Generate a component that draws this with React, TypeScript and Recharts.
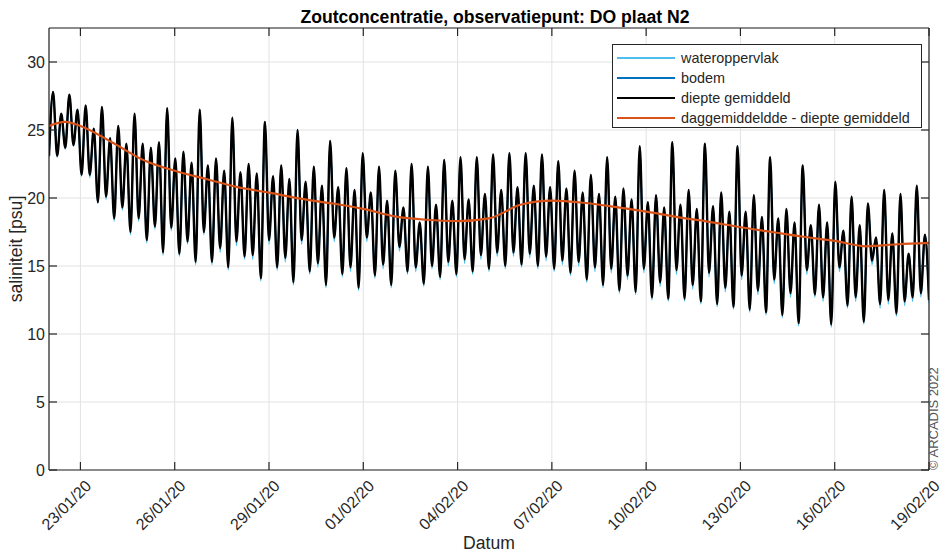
import React from 'react';
import { LineChart, Line, XAxis, YAxis, CartesianGrid } from 'recharts';

// x-as: dagen vanaf 22/01/20 00:00
const datumTicks = [1, 4, 7, 10, 13, 16, 19, 22, 25, 28];
const datumLabels = ['23/01/20', '26/01/20', '29/01/20', '01/02/20', '04/02/20', '07/02/20', '10/02/20', '13/02/20', '16/02/20', '19/02/20'];
const zoutTicks = [0, 5, 10, 15, 20, 25, 30];

// toppen (per getijslag) diepte gemiddeld
const diepteTop = [
  27.8, 26.2, 27.6, 26.5, 26.8, 25.1, 26.7, 24.4, 25.3, 24.0,
  26.2, 24.0, 23.7, 24.1, 26.6, 22.9, 23.4, 22.6, 26.5, 22.4,
  22.9, 22.0, 25.9, 21.9, 22.5, 21.8, 25.6, 21.6, 22.4, 21.4,
  25.0, 21.2, 22.3, 20.9, 24.2, 20.8, 22.2, 20.6, 23.3, 20.4,
  22.3, 19.8, 22.0, 19.3, 22.5, 18.2, 22.3, 19.5, 22.8, 19.8,
  23.0, 19.9, 23.0, 20.3, 23.2, 20.6, 23.3, 20.8, 23.3, 20.9,
  23.2, 20.8, 22.7, 20.7, 22.0, 20.4, 21.7, 20.3, 23.0, 20.1,
  20.7, 19.9, 23.8, 19.7, 20.2, 19.3, 24.1, 19.5, 20.6, 19.2,
  24.0, 19.4, 20.4, 19.0, 23.8, 19.0, 20.2, 18.6, 23.0, 18.5,
  19.2, 18.2, 22.4, 18.0, 19.5, 18.2, 21.2, 17.6, 20.1, 18.0,
  19.6, 17.1, 20.6, 17.4, 20.3, 15.9, 20.9, 17.3,
];

// dalen diepte gemiddeld
const diepteDal = [
  23.1, 23.1, 23.7, 23.9, 21.7, 21.7, 19.7, 20.1, 18.5, 19.3,
  17.5, 18.5, 16.9, 17.9, 16.0, 17.8, 15.9, 16.8, 15.3, 17.5,
  15.3, 16.3, 14.9, 16.8, 15.7, 15.8, 14.1, 16.9, 14.9, 15.6,
  13.8, 16.9, 14.6, 15.2, 13.6, 17.1, 14.4, 14.9, 13.4, 17.1,
  14.3, 15.1, 13.6, 16.4, 14.6, 14.9, 13.7, 15.0, 14.2, 15.3,
  14.4, 15.5, 14.6, 15.8, 14.8, 16.0, 15.0, 16.0, 15.1, 15.9,
  15.0, 15.7, 14.8, 15.4, 14.5, 15.3, 14.0, 14.9, 13.6, 14.8,
  13.2, 14.3, 13.1, 14.8, 12.7, 13.8, 12.6, 14.7, 12.6, 13.6,
  12.4, 14.5, 12.2, 13.4, 12.0, 14.3, 11.8, 13.2, 11.6, 14.0,
  11.4, 13.0, 10.8, 14.7, 12.9, 12.7, 10.7, 14.9, 12.1, 12.7,
  10.9, 15.4, 12.2, 12.5, 11.5, 12.4, 12.7, 13.0, 12.5,
];

// dalen wateroppervlak
const oppervlakDal = [
  23.0, 23.0, 23.6, 23.8, 21.6, 21.5, 19.6, 19.9, 18.3, 19.1,
  17.3, 18.3, 16.7, 17.7, 15.8, 17.6, 15.7, 16.6, 15.1, 17.3,
  15.1, 16.0, 14.7, 16.5, 15.5, 15.5, 13.9, 16.6, 14.7, 15.3,
  13.6, 16.6, 14.4, 14.9, 13.4, 16.8, 14.2, 14.6, 13.2, 16.8,
  14.1, 14.8, 13.4, 16.1, 14.4, 14.6, 13.5, 14.8, 14.0, 15.0,
  14.2, 15.2, 14.4, 15.5, 14.6, 15.7, 14.8, 15.7, 14.9, 15.6,
  14.8, 15.4, 14.6, 15.1, 14.3, 15.0, 13.8, 14.6, 13.4, 14.5,
  13.0, 14.0, 12.9, 14.5, 12.5, 13.5, 12.4, 14.4, 12.4, 13.3,
  12.2, 14.2, 12.0, 13.1, 11.8, 14.0, 11.6, 12.9, 11.4, 13.7,
  11.2, 12.7, 10.6, 14.4, 12.7, 12.4, 10.5, 14.6, 11.9, 12.4,
  10.7, 15.1, 11.9, 12.2, 11.3, 12.1, 12.4, 12.7, 12.3,
];

// dalen bodem
const bodemDal = [
  23.2, 23.2, 23.8, 24.0, 21.9, 21.9, 19.9, 20.3, 18.7, 19.5,
  17.7, 18.7, 17.1, 18.1, 16.2, 18.0, 16.1, 17.0, 15.5, 17.7,
  15.5, 16.5, 15.1, 17.0, 15.9, 16.0, 14.3, 17.1, 15.1, 15.8,
  14.0, 17.1, 14.8, 15.4, 13.8, 17.3, 14.6, 15.1, 13.6, 17.3,
  14.5, 15.3, 13.8, 16.6, 14.8, 15.1, 13.9, 15.2, 14.4, 15.5,
  14.6, 15.7, 14.8, 16.0, 15.0, 16.2, 15.2, 16.2, 15.3, 16.1,
  15.2, 15.9, 15.0, 15.6, 14.7, 15.5, 14.2, 15.1, 13.8, 15.0,
  13.4, 14.5, 13.3, 15.0, 12.9, 14.0, 12.8, 14.9, 12.8, 13.8,
  12.6, 14.7, 12.4, 13.6, 12.2, 14.5, 12.0, 13.4, 11.8, 14.2,
  11.6, 13.2, 11.0, 14.9, 13.1, 12.9, 10.9, 15.1, 12.3, 12.9,
  11.1, 15.6, 12.4, 12.7, 11.7, 12.6, 12.9, 13.2, 12.7,
];

// daggemiddelde
const dagDagen = [0, 0.5, 1, 2, 3, 4, 5, 6, 7, 8, 9, 10, 11, 12, 13, 14, 15, 16, 17, 18, 19, 20, 21, 22, 23, 24, 25, 26, 27, 28];
const dagGemiddeld = [
  25.3, 25.6, 25.3, 24.1, 22.8, 22.0, 21.4, 20.8, 20.4, 19.95,
  19.6, 19.2, 18.65, 18.4, 18.3, 18.5, 19.5, 19.8, 19.65, 19.35,
  19.0, 18.6, 18.25, 17.85, 17.5, 17.15, 16.85, 16.45, 16.6, 16.7,
];

const HALVE_SLAGEN = 216;
const PERIODE = 28;

const getij = [];
for (let i = 0; i <= HALVE_SLAGEN; i++) {
  const j = i >> 1;
  const dal = i % 2 === 0;
  getij.push({
    t: (i * PERIODE) / HALVE_SLAGEN,
    oppervlak: dal ? oppervlakDal[j] : diepteTop[j],
    bodem: dal ? bodemDal[j] : diepteTop[j],
    diepte: dal ? diepteDal[j] : diepteTop[j],
  });
}
const dagData = dagDagen.map((t, i) => ({ t, gem: dagGemiddeld[i] }));

const AX = '#262626';
const FONT = '"Liberation Sans", Arial, Helvetica, sans-serif';
const TICK_LEN = 8;

const BottomTick = (props: any) => {
  const { x, y, payload } = props;
  const label = datumLabels[datumTicks.indexOf(payload.value)];
  const lx = x + 8;
  const ly = y + 13;
  return (
    <g>
      <line x1={x} y1={y} x2={x} y2={y - TICK_LEN} stroke={AX} strokeWidth={1.2} />
      <text x={lx} y={ly} transform={`rotate(-45 ${lx} ${ly})`} textAnchor="end" dominantBaseline="central" fontSize={16} fill={AX} fontFamily={FONT}>
        {label}
      </text>
    </g>
  );
};

const TopTick = (props: any) => {
  const { x, y } = props;
  return <line x1={x} y1={y} x2={x} y2={y + TICK_LEN} stroke={AX} strokeWidth={1.2} />;
};

const LeftTick = (props: any) => {
  const { x, y, payload } = props;
  return (
    <g>
      <line x1={x} y1={y} x2={x + TICK_LEN} y2={y} stroke={AX} strokeWidth={1.2} />
      <text x={x - 4} y={y} textAnchor="end" dominantBaseline="central" fontSize={16} fill={AX} fontFamily={FONT}>
        {payload.value}
      </text>
    </g>
  );
};

const RightTick = (props: any) => {
  const { x, y } = props;
  return <line x1={x} y1={y} x2={x - TICK_LEN} y2={y} stroke={AX} strokeWidth={1.2} />;
};

const legendItems = [
  { name: 'wateroppervlak', color: '#4DBEEE' },
  { name: 'bodem', color: '#0072BD' },
  { name: 'diepte gemiddeld', color: '#000000' },
  { name: 'daggemiddeldde - diepte gemiddeld', color: '#D95319' },
];

const App = () => {
  return (
    <div style={{ position: 'absolute', left: 0, top: 0, width: 942, height: 556, background: '#fff', fontFamily: FONT }}>
      <LineChart width={942} height={556} data={getij} margin={{ top: 0, right: 0, bottom: 0, left: 0 }}>
        <CartesianGrid xAxisId="b" yAxisId="l" stroke="#e2e2e2" />
        <XAxis xAxisId="b" type="number" dataKey="t" domain={[0, 28]} ticks={datumTicks} interval={0} orientation="bottom" height={86} tickSize={0} tickMargin={0} tickLine={false} tick={<BottomTick />} axisLine={{ stroke: AX, strokeWidth: 1.2 }} allowDataOverflow />
        <XAxis xAxisId="t" type="number" dataKey="t" domain={[0, 28]} ticks={datumTicks} interval={0} orientation="top" height={28} tickSize={0} tickMargin={0} tickLine={false} tick={<TopTick />} axisLine={{ stroke: AX, strokeWidth: 1.2 }} allowDataOverflow />
        <YAxis yAxisId="l" type="number" domain={[0, 32.5]} ticks={zoutTicks} interval={0} width={49} tickSize={0} tickMargin={0} tickLine={false} tick={<LeftTick />} axisLine={{ stroke: AX, strokeWidth: 1.2 }} allowDataOverflow />
        <YAxis yAxisId="r" orientation="right" type="number" domain={[0, 32.5]} ticks={zoutTicks} interval={0} width={13} tickSize={0} tickMargin={0} tickLine={false} tick={<RightTick />} axisLine={{ stroke: AX, strokeWidth: 1.2 }} allowDataOverflow />
        <Line xAxisId="b" yAxisId="l" type="monotone" dataKey="oppervlak" stroke="#4DBEEE" strokeWidth={1.6} dot={false} isAnimationActive={false} />
        <Line xAxisId="b" yAxisId="l" type="monotone" dataKey="bodem" stroke="#0072BD" strokeWidth={1.6} dot={false} isAnimationActive={false} />
        <Line xAxisId="b" yAxisId="l" type="monotone" dataKey="diepte" stroke="#000000" strokeWidth={2.4} dot={false} isAnimationActive={false} />
        <Line xAxisId="b" yAxisId="l" data={dagData} type="monotone" dataKey="gem" stroke="#D95319" strokeWidth={2.2} dot={false} isAnimationActive={false} />
      </LineChart>

      <svg width={942} height={556} style={{ position: 'absolute', left: 0, top: 0, pointerEvents: 'none' }}>
        <text x={495} y={23} textAnchor="middle" fontSize={17.6} fontWeight="bold" fill="#000" fontFamily={FONT}>
          Zoutconcentratie, observatiepunt: DO plaat N2
        </text>
        <text x={16} y={249} transform="rotate(-90 16 249)" textAnchor="middle" dominantBaseline="central" fontSize={17.6} fill={AX} fontFamily={FONT}>
          saliniteit [psu]
        </text>
        <text x={489} y={549} textAnchor="middle" fontSize={17.6} fill={AX} fontFamily={FONT}>
          Datum
        </text>
        <text x={942} y={470} transform="rotate(-90 942 470)" textAnchor="start" fontSize={13} fill="#555" fontFamily={FONT} dy={-4}>
          © ARCADIS 2022
        </text>
      </svg>

      <div style={{ position: 'absolute', left: 612, top: 44, width: 310, height: 84, background: '#fff', border: `1px solid ${AX}`, boxSizing: 'border-box' }}>
        {legendItems.map((item, i) => (
          <div key={item.name} style={{ position: 'absolute', left: 0, top: 3 + i * 20, height: 20, display: 'flex', alignItems: 'center', whiteSpace: 'nowrap' }}>
            <div style={{ width: 58, height: 0, borderTop: `2px solid ${item.color}`, marginLeft: 4, marginRight: 6 }} />
            <span style={{ fontSize: 14.4, color: AX }}>{item.name}</span>
          </div>
        ))}
      </div>
    </div>
  );
};

export default App;
